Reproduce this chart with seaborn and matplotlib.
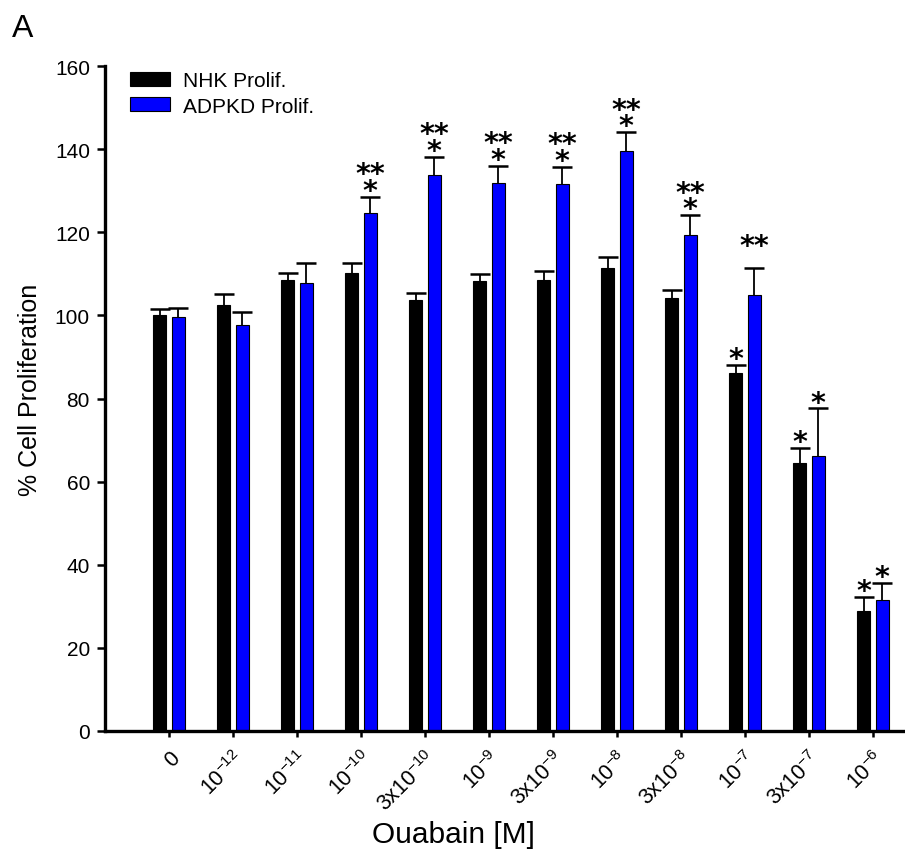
import numpy as np
import pandas as pd
import matplotlib
matplotlib.use('Agg')
import matplotlib.pyplot as plt
import seaborn as sns

conc_labels = ['0', '10$^{-12}$', '10$^{-11}$', '10$^{-10}$', '3x10$^{-10}$', '10$^{-9}$',
               '3x10$^{-9}$', '10$^{-8}$', '3x10$^{-8}$', '10$^{-7}$', '3x10$^{-7}$', '10$^{-6}$']
series_names = ['NHK Prolif.', 'ADPKD Prolif.']

nhk_mean = [100.0, 102.5, 108.5, 110.2, 103.7, 108.2, 108.6, 111.4, 104.2, 86.1, 64.4, 28.8]
nhk_sem = [1.6, 2.6, 1.8, 2.3, 1.8, 1.7, 2.2, 2.6, 1.9, 2.0, 3.8, 3.5]
adpkd_mean = [99.7, 97.8, 107.9, 124.6, 133.9, 131.8, 131.5, 139.6, 119.4, 105.0, 66.2, 31.5]
adpkd_sem = [2.1, 2.9, 4.6, 3.9, 4.3, 4.2, 4.3, 4.5, 4.7, 6.3, 11.4, 4.2]

# significance marks: first row sits on the cap, second row above it
nhk_sig = ['', '', '', '', '', '', '', '', '', '*', '*', '*']
adpkd_sig = ['', '', '', '*', '*', '*', '*', '*', '*', '', '*', '*']
adpkd_sig2 = ['', '', '', '**', '**', '**', '**', '**', '**', '**', '', '']

sns.set_style('ticks')
plt.rcParams['font.family'] = ['Liberation Sans', 'DejaVu Sans']
plt.rcParams['mathtext.default'] = 'regular'
for key in ['text.color', 'axes.labelcolor', 'xtick.color', 'ytick.color', 'axes.edgecolor']:
    plt.rcParams[key] = 'black'

df = pd.DataFrame({
    'conc': conc_labels * 2,
    'group': [series_names[0]] * len(conc_labels) + [series_names[1]] * len(conc_labels),
    'value': nhk_mean + adpkd_mean,
})

fig = plt.figure(figsize=(9.05, 8.54), dpi=100)
ax = fig.add_axes([0.116, 0.1429, 0.884, 0.7786])

sns.barplot(data=df, x='conc', y='value', hue='group', order=conc_labels,
            hue_order=series_names, palette={series_names[0]: 'black', series_names[1]: '#0000ff'},
            errorbar=None, width=0.58, gap=0.31, edgecolor='black', linewidth=0.8,
            saturation=1, ax=ax)

means = [nhk_mean, adpkd_mean]
sems = [nhk_sem, adpkd_sem]
sigs = [[nhk_sig], [adpkd_sig, adpkd_sig2]]
for k, cont in enumerate(ax.containers[:2]):
    xs = np.array([p.get_x() + p.get_width() / 2 for p in cont.patches])
    m = np.array(means[k])
    e = np.array(sems[k])
    ax.errorbar(xs, m, yerr=[np.zeros_like(e), e], fmt='none', ecolor='black',
                elinewidth=1.3, capsize=0, zorder=3)
    ax.plot(xs, m + e, linestyle='none', marker='_', markersize=13.7,
            markeredgewidth=1.8, color='black', zorder=3)
    for row, marks in enumerate(sigs[k]):
        for x, top, s in zip(xs, m + e, marks):
            if s:
                ax.annotate(s, xy=(x, top), xytext=(0, -1.5 + 12 * row), textcoords='offset points',
                            ha='center', va='baseline', fontsize=20.5, family='DejaVu Sans',
                            fontweight='bold')

ax.set_xlim(-1.0, 11.5)
ax.set_ylim(0, 160)
ax.set_yticks(np.arange(0, 161, 20))
ax.tick_params(axis='y', length=5.8, width=1.8, labelsize=15, pad=5)
ax.tick_params(axis='x', length=4.3, width=1.8, labelsize=15.5, pad=7)
for lab in ax.get_xticklabels():
    lab.set_rotation(45)
    lab.set_ha('right')
    lab.set_rotation_mode('anchor')
sns.despine(ax=ax)
for sp in ['left', 'bottom']:
    ax.spines[sp].set_linewidth(2.4)
ax.set_xlabel('')
ax.set_ylabel('')

handles, labels = ax.get_legend_handles_labels()
ax.legend(handles, labels, loc='upper left', bbox_to_anchor=(0.031, 0.992), frameon=False,
          fontsize=15, handlelength=1.95, handleheight=0.68, handletextpad=0.6,
          labelspacing=0.3, borderaxespad=0, borderpad=0)

fig.text(0.5006, 0.0129, 'Ouabain [M]', ha='center', va='baseline', fontsize=21.5)
fig.text(0.033, 0.543, '% Cell Proliferation', rotation=90, ha='center', va='center', fontsize=18)
fig.text(0.013, 0.9567, 'A', ha='left', va='baseline', fontsize=23)

fig.savefig('out.png', dpi=100)
